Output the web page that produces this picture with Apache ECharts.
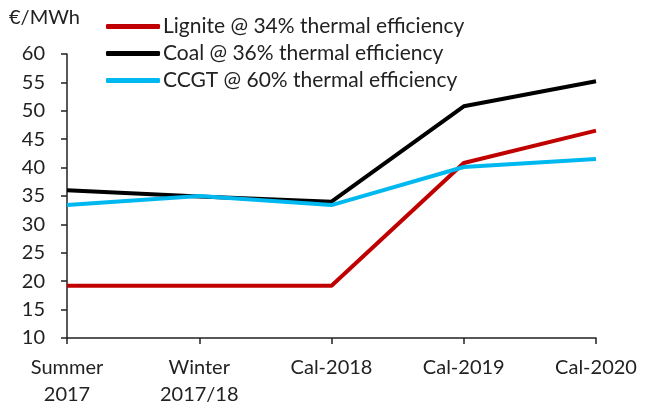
<!DOCTYPE html>
<html>
<head>
<meta charset="utf-8">
<script src="https://cdn.jsdelivr.net/npm/echarts@6/dist/echarts.min.js"></script>
<style>
  html, body { margin: 0; padding: 0; background: #fff; }
  #chart { width: 650px; height: 408px; }
</style>
</head>
<body>
<div id="chart"></div>
<script>
// 数据
const categories = ['Summer\n2017', 'Winter\n2017/18', 'Cal-2018', 'Cal-2019', 'Cal-2020']
const lignite = [19.2, 19.2, 19.2, 40.8, 46.5]
const coal = [36.0, 34.9, 34.0, 50.8, 55.2]
const ccgt = [33.4, 35.0, 33.4, 40.1, 41.5]
const seriesNames = [
  'Lignite @ 34% thermal efficiency',
  'Coal @ 36% thermal efficiency',
  'CCGT @ 60% thermal efficiency'
]

const FONT = 'Lato'
const TEXT = '#222'

const chart = echarts.init(document.getElementById('chart'))

function lineSeries(name, data, color) {
  return {
    name: name,
    type: 'line',
    data: data,
    symbol: 'none',
    lineStyle: { color: color, width: 4 },
    itemStyle: { color: color }
  }
}

chart.setOption({
  animation: false,
  textStyle: { fontFamily: FONT },
  title: {
    text: '€/MWh',
    left: 9,
    top: 8,
    padding: 0,
    textStyle: { fontFamily: FONT, fontSize: 20, fontWeight: 'normal', color: TEXT }
  },
  legend: {
    orient: 'vertical',
    left: 106,
    top: 16,
    padding: 0,
    itemWidth: 54,
    itemHeight: 5,
    itemGap: 6,
    icon: 'roundRect',
    textStyle: { fontFamily: FONT, fontSize: 21, color: TEXT, padding: [0, 0, 0, -2] },
    data: seriesNames
  },
  grid: { left: 67, right: 54, top: 54, bottom: 65 },
  xAxis: {
    type: 'category',
    data: categories,
    boundaryGap: false,
    axisLine: { lineStyle: { color: TEXT, width: 1.5 } },
    axisTick: { show: true, length: 6, lineStyle: { color: TEXT, width: 1.5 } },
    axisLabel: { color: TEXT, fontSize: 20, lineHeight: 27, margin: 16, interval: 0 }
  },
  yAxis: {
    type: 'value',
    min: 10,
    max: 60,
    interval: 5,
    splitLine: { show: false },
    axisLine: { show: true, lineStyle: { color: TEXT, width: 1.5 } },
    axisTick: { show: true, length: 6, lineStyle: { color: TEXT, width: 1.5 } },
    axisLabel: { color: TEXT, fontSize: 20, margin: 22 }
  },
  series: [
    lineSeries(seriesNames[0], lignite, '#c00000'),
    lineSeries(seriesNames[1], coal, '#000000'),
    lineSeries(seriesNames[2], ccgt, '#00b8f0')
  ]
})
</script>
</body>
</html>
